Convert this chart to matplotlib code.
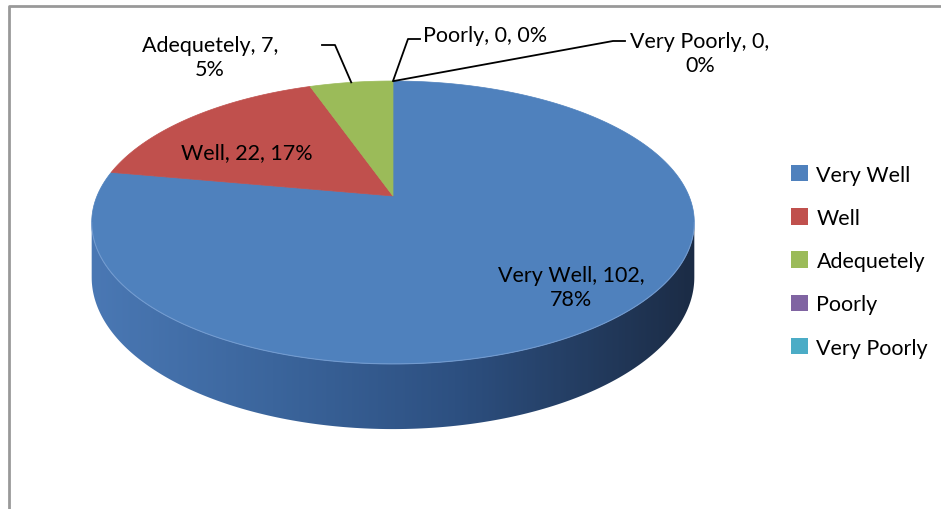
import numpy as np
import matplotlib.pyplot as plt
from matplotlib.patches import Polygon, Patch
from matplotlib.colors import LinearSegmentedColormap

plt.rcParams['font.family'] = ['Lato', 'DejaVu Sans']

# ── data ─────────────────────────────────────────────
categories = ['Very Well', 'Well', 'Adequetely', 'Poorly', 'Very Poorly']
counts = [102, 22, 7, 0, 0]
colors = ['#4F81BD', '#C0504D', '#9BBB59', '#8064A2', '#4BACC6']

# ── tilted disc projection (pixel units) ─────────────
CX, CY = 393, 197
A, B, K = 296, 136.5, 0.187
DEPTH = 53


def proj(theta, drop=0.0):
    u, v = np.sin(theta), np.cos(theta)
    w = 1 + K * v
    return CX + A * u / w, CY - B * v / w + drop / w


fig = plt.figure(figsize=(9.41, 5.10), dpi=100)
ax = fig.add_axes([0, 0, 1, 1])

# chart border (only top/left visible in crop)
ax.plot([9.5, 9.5, 941], [510, 7, 7], color='#999999', lw=2, solid_capstyle='butt')

total = sum(counts)
fracs = np.array(counts) / total
starts = 2 * np.pi * np.concatenate([[0], np.cumsum(fracs)[:-1]])
ends = 2 * np.pi * np.cumsum(fracs)

# side wall (front part, only "Very Well" visible there)
t_r = np.arccos(-K)
t_l = 2 * np.pi - t_r
ts = np.linspace(t_r, t_l, 200)
tx, ty = proj(ts)
bx, by = proj(ts[::-1], DEPTH)
side = Polygon(np.column_stack([np.r_[tx, bx], np.r_[ty, by]]),
               closed=True, facecolor='none', edgecolor='none')
ax.add_patch(side)
cmap = LinearSegmentedColormap.from_list(
    'side', [(0, '#4A78B4'), (0.3, '#3B659C'), (0.6, '#2D5081'), (1, '#1B2B44')])
grad = np.linspace(0, 1, 300)[None, :]
im = ax.imshow(grad, cmap=cmap, extent=(90, 700, 440, 210), aspect='auto', zorder=1)
im.set_clip_path(side)
ax.set_xlim(0, 941)
ax.set_ylim(510, 0)
ax.axis('off')

# top face wedges
for s, e, c in zip(starts, ends, colors):
    if e - s <= 0:
        continue
    t = np.linspace(s, e, 200)
    x, y = proj(t)
    poly = Polygon(np.column_stack([np.r_[CX, x], np.r_[CY, y]]), closed=True,
                   facecolor=c, edgecolor=c, lw=0.5, zorder=2)
    ax.add_patch(poly)

# rim highlight along the front edge
hx, hy = proj(np.linspace(t_r, t_l, 200))
ax.plot(hx, hy, color='#7DA3D6', lw=0.8, alpha=0.7, zorder=3)


def label(i):
    pct = round(100 * counts[i] / total)
    return categories[i], counts[i], pct


fs = 15.5
ls = 1.25
name, n, p = label(0)
ax.text(571, 288, f'{name}, {n},\n{p}%', ha='center', va='center', fontsize=fs,
        linespacing=ls, zorder=5)
name, n, p = label(1)
ax.text(247, 153, f'{name}, {n}, {p}%', ha='center', va='center', fontsize=fs, zorder=5)

# outside labels with leader lines
mid = (starts + ends) / 2
ax_, ay_ = proj(mid[2])
ax.plot([ax_, 335, 322], [ay_, 46, 46], color='black', lw=1.3, zorder=5)
name, n, p = label(2)
ax.text(210, 58, f'{name}, {n},\n{p}%', ha='center', va='center', fontsize=fs,
        linespacing=ls, zorder=5)

px_, py_ = proj(mid[3])
ax.plot([px_, 408, 420], [py_, 40, 40], color='black', lw=1.3, zorder=5)
name, n, p = label(3)
ax.text(423, 36, f'{name}, {n}, {p}%', ha='left', va='center', fontsize=fs, zorder=5)

qx_, qy_ = proj(mid[4])
ax.plot([qx_ + 1, 613, 625], [qy_, 42, 42], color='black', lw=1.3, zorder=5)
name, n, p = label(4)
ax.text(700, 54, f'{name}, {n},\n{p}%', ha='center', va='center', fontsize=fs,
        linespacing=ls, zorder=5)

# legend
handles = [Patch(facecolor=c, edgecolor='none', label=l) for c, l in zip(colors, categories)]
fig.legend(handles=handles, loc='upper left', bbox_to_anchor=(782 / 941, 1 - 157 / 510),
           frameon=False, fontsize=fs, handlelength=0.8, handleheight=0.8,
           handletextpad=0.4, labelspacing=1.08, borderaxespad=0)

fig.savefig('out.png', dpi=100)
